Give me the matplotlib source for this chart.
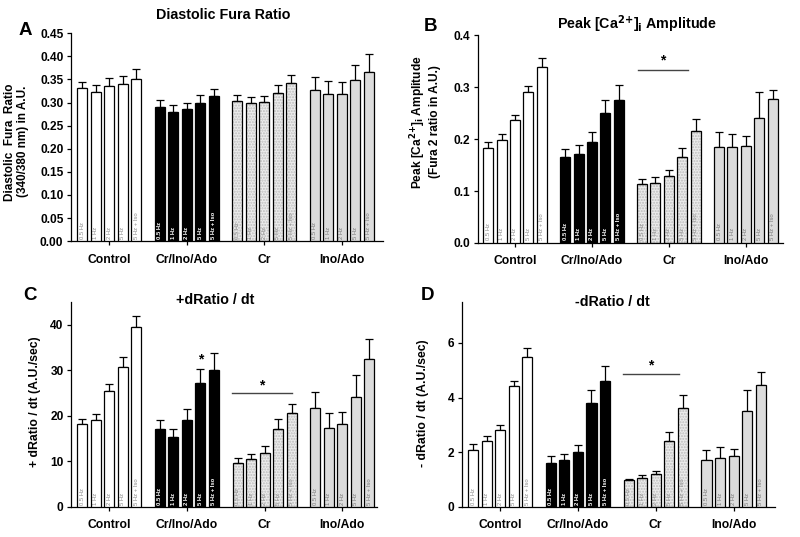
"""Calcium transient summary: four bar panels (A-D) with SEM bars
"""
import numpy as np
import matplotlib.pyplot as plt

plt.rcParams['font.family'] = ['Liberation Sans', 'DejaVu Sans']
plt.rcParams['font.weight'] = 'bold'
plt.rcParams['mathtext.default'] = 'bf'

groups = ['Control', 'Cr/Ino/Ado', 'Cr', 'Ino/Ado']
rates = ['0.5 Hz', '1 Hz', '2 Hz', '5 Hz', '5 Hz + Iso']

# A: diastolic fura ratio (rows = groups, cols = rates)
dia_mean = [[0.331, 0.323, 0.336, 0.341, 0.352],
            [0.291, 0.280, 0.285, 0.300, 0.314],
            [0.303, 0.299, 0.301, 0.320, 0.342],
            [0.327, 0.319, 0.318, 0.349, 0.366]]
dia_err = [[0.013, 0.014, 0.017, 0.016, 0.020],
           [0.015, 0.014, 0.014, 0.016, 0.015],
           [0.014, 0.014, 0.014, 0.017, 0.018],
           [0.029, 0.028, 0.027, 0.033, 0.039]]

# B: peak [Ca2+]i amplitude
peak_mean = [[0.182, 0.198, 0.236, 0.290, 0.339],
             [0.165, 0.171, 0.194, 0.250, 0.276],
             [0.114, 0.116, 0.128, 0.166, 0.215],
             [0.184, 0.185, 0.186, 0.240, 0.278]]
peak_err = [[0.013, 0.011, 0.010, 0.012, 0.018],
            [0.015, 0.017, 0.019, 0.026, 0.028],
            [0.010, 0.011, 0.012, 0.017, 0.023],
            [0.029, 0.025, 0.020, 0.051, 0.016]]

# C: +dRatio/dt
up_mean = [[18.1, 19.1, 25.5, 30.6, 39.5],
           [17.2, 15.3, 19.0, 27.3, 30.1],
           [9.6, 10.6, 11.9, 17.0, 20.6],
           [21.7, 17.4, 18.2, 24.2, 32.4]]
up_err = [[1.3, 1.4, 1.4, 2.3, 2.4],
          [1.9, 1.8, 2.4, 3.0, 3.6],
          [1.1, 1.0, 1.4, 2.2, 2.1],
          [3.6, 3.2, 2.7, 4.8, 4.4]]

# D: -dRatio/dt
down_mean = [[2.10, 2.40, 2.80, 4.42, 5.50],
             [1.60, 1.70, 2.00, 3.80, 4.60],
             [0.97, 1.06, 1.20, 2.42, 3.63],
             [1.70, 1.80, 1.88, 3.50, 4.45]]
down_err = [[0.22, 0.18, 0.18, 0.20, 0.32],
            [0.25, 0.24, 0.25, 0.47, 0.54],
            [0.07, 0.11, 0.13, 0.31, 0.48],
            [0.37, 0.38, 0.24, 0.79, 0.47]]

faces = ['white', 'black', '#ececec', '#dcdcdc']
hz_colors = ['#8a8a8a', 'white', '#8a8a8a', '#7a7a7a']
hz_weights = ['normal', 'bold', 'normal', 'normal']
pitch, width = 0.174, 0.13

fig = plt.figure(figsize=(8, 5.37), dpi=100)


def panel(rect, means, errs, ylim, yticks, fmt, xlim):
    ax = fig.add_axes(rect)
    for g in range(4):
        x = g + (np.arange(5) - 2) * pitch
        if g == 2:
            ax.bar(x, means[g], width, color=faces[g], hatch='......',
                   edgecolor='#bdbdbd', linewidth=0, zorder=2)
            ax.bar(x, means[g], width, facecolor='none', edgecolor='black',
                   linewidth=0.9, zorder=3)
        else:
            ax.bar(x, means[g], width, color=faces[g], edgecolor='black',
                   linewidth=0.9, zorder=3)
        ax.errorbar(x, means[g], yerr=[np.zeros(5), errs[g]], fmt='none',
                    ecolor='black', elinewidth=0.9, capsize=2.6, capthick=0.9,
                    zorder=2)
        for xi, lab in zip(x, rates):
            ax.text(xi, ylim[1] * 0.012, lab, rotation=90, ha='center',
                    va='bottom', fontsize=4.2, fontweight=hz_weights[g],
                    color=hz_colors[g], zorder=4)
    ax.set_xlim(*xlim)
    ax.set_ylim(*ylim)
    ax.set_yticks(yticks)
    ax.set_yticklabels([fmt.format(t) for t in yticks])
    ax.set_xticks(range(4))
    ax.set_xticklabels(groups, fontsize=8.7)
    ax.tick_params(axis='x', length=3, width=0.9, pad=6)
    ax.tick_params(axis='y', length=3, width=0.9, labelsize=8.6, pad=2.5)
    for s in ['top', 'right']:
        ax.spines[s].set_visible(False)
    for s in ['left', 'bottom']:
        ax.spines[s].set_linewidth(0.9)
    return ax


def sig(ax, x0, x1, y, ystar):
    ax.plot([x0, x1], [y, y], color='#444444', lw=1.0)
    ax.text((x0 + x1) / 2, ystar, '*', ha='center', va='center', fontsize=10)


# A
axA = panel([0.0888, 0.551, 0.39, 0.387], dia_mean, dia_err, (0, 0.45),
            np.arange(0, 0.451, 0.05), '{:.2f}', (-0.49, 3.53))
# B
axB = panel([0.5975, 0.5475, 0.381, 0.387], peak_mean, peak_err, (0, 0.4),
            np.arange(0, 0.41, 0.1), '{:.1f}', (-0.48, 3.48))
sig(axB, 1.60, 2.25, 0.333, 0.352)
# C
axC = panel([0.089, 0.0559, 0.3825, 0.382], up_mean, up_err, (0, 45),
            [0, 10, 20, 30, 40], '{:d}', (-0.49, 3.45))
sig(axC, 1.58, 2.35, 24.9, 26.6)
axC.text(1 + pitch, 32.3, '*', ha='center', va='center', fontsize=10)
# D
axD = panel([0.5775, 0.0559, 0.391, 0.382], down_mean, down_err, (0, 7.5),
            [0, 2, 4, 6], '{:d}', (-0.49, 3.53))
sig(axD, 1.58, 2.30, 4.88, 5.18)

# panel letters, titles, y labels
for lab, x, y in [('A', 0.031, 0.944), ('B', 0.538, 0.950),
                  ('C', 0.038, 0.450), ('D', 0.535, 0.450)]:
    fig.text(x, y, lab, fontsize=13.5, ha='center', va='center')
ca = r'Peak [Ca$^{\mathbf{2{+}}}$]$_{\mathbf{i}}$ Amplitude'
for t, x, y in [('Diastolic Fura Ratio', 0.279, 0.972),
                (ca, 0.796, 0.955),
                ('+dRatio / dt', 0.269, 0.441),
                ('-dRatio / dt', 0.766, 0.437)]:
    fig.text(x, y, t, fontsize=10.3, ha='center', va='center')
fig.text(0.021, 0.736, 'Diastolic  Fura  Ratio\n(340/380 nm) in A.U.',
         rotation=90, ha='center', va='center', fontsize=8.5,
         linespacing=1.1)
fig.text(0.531, 0.773, ca + '\n(Fura 2 ratio in A.U.)',
         rotation=90, ha='center', va='center', fontsize=8.6,
         linespacing=1.1)
fig.text(0.044, 0.252, '+ dRatio / dt (A.U./sec)',
         rotation=90, ha='center', va='center', fontsize=8.8)
fig.text(0.529, 0.249, '- dRatio / dt (A.U./sec)',
         rotation=90, ha='center', va='center', fontsize=8.8)

fig.savefig('out.png', dpi=100)
